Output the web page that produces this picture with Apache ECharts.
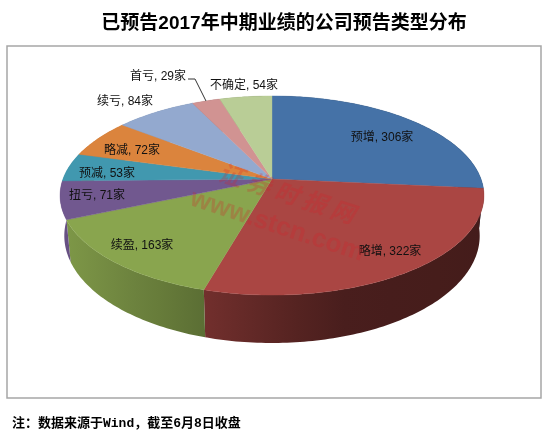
<!DOCTYPE html>
<html><head><meta charset="utf-8">
<style>html,body{margin:0;padding:0;background:#fff}#c{width:550px;height:431px}</style>
<script src="https://cdn.jsdelivr.net/npm/echarts@6/dist/echarts.min.js"></script>
</head><body><div id="c"></div>
<script>
var categories = ['预增','略增','续盈','扭亏','预减','略减','续亏','首亏','不确定'];
var counts = [306,322,163,71,53,72,84,29,54];
var colors = ['#4572A7','#AA4643','#89A54E','#71588F','#4198AF','#DB843D','#93A9CF','#D19392','#B9CD96'];
var titleText = '已预告2017年中期业绩的公司预告类型分布';
var noteText = '注：数据来源于Wind，截至6月8日收盘';

// layout (pixels): frame, apex of pie, label centres
var FRAME = {l:7,t:46,r:541,b:398};
var APEX = {x:272,y:179};
var PIE = {a:209,b:96.8,k:0.166,sx:0.98,sy:1.077,drop:39};
var LABEL_AT = [[382,137.5],[390,251.5],[142,245.5],[97,195.5],[107,173.5],[132,150.5],[125,101.5],[158,76.5],[244,85.5]];

var total = counts.reduce(function(s,v){return s+v;},0);
var starts = [];
counts.reduce(function(s,v,i){starts[i]=s;return s+v;},0);

function proj(deg, lower){
  var r = deg*Math.PI/180, u = Math.sin(r), v = Math.cos(r), w = 1+PIE.k*v;
  var X = PIE.a*u/w, Y = -PIE.b*v/w;
  if(lower){ return [X*PIE.sx, -(Y*PIE.sy+PIE.drop)]; }
  return [X, -Y];
}
function shadeAt(t){ // t in -1..1 : lighting of the wall, left to right
  var p=[[-1,.92],[-.3,.66],[.3,.43],[1,.40]];
  for(var i=0;i<3;i++){ if(t<=p[i+1][0]){ var f=(t-p[i][0])/(p[i+1][0]-p[i][0]); return p[i][1]+f*(p[i+1][1]-p[i][1]); } }
  return .40;
}
function mul(hex,f){
  var n=parseInt(hex.slice(1),16);
  return 'rgb('+[(n>>16)&255,(n>>8)&255,n&255].map(function(c){return Math.round(c*f);}).join(',')+')';
}
function renderSlice(params, api){
  var i = api.value(0), val = api.value(1);
  var a0 = starts[i]/total*360, a1 = a0+val/total*360;
  var top=[], wall=[], low=[], d;
  for(d=a0;;d+=1){ var dd=Math.min(d,a1); var t=proj(dd,false); top.push(api.coord(t)); wall.push(api.coord(t)); low.unshift(api.coord(proj(dd,true))); if(dd>=a1)break; }
  var apex = api.coord([0,0]);
  var topPts=[apex].concat(top), wallPts=wall.concat(low);
  var xs=wallPts.map(function(p){return p[0];});
  var minX=Math.min.apply(null,xs), maxX=Math.max.apply(null,xs), stops=[];
  for(var s=0;s<=6;s++){
    var px=minX+(maxX-minX)*s/6;
    stops.push({offset:s/6,color:mul(colors[i],shadeAt((px-APEX.x)/PIE.a))});
  }
  var fill=new echarts.graphic.LinearGradient(minX,0,maxX,0,stops,true);
  var lab=LABEL_AT[i];
  return {type:'group',children:[
    {type:'polygon',z2:1,shape:{points:wallPts},style:{fill:fill,stroke:null}},
    {type:'polygon',z2:2,shape:{points:topPts},style:{fill:colors[i],stroke:colors[i],lineWidth:.4}},
    {type:'text',z2:10,x:lab[0],y:lab[1],style:{
      text:categories[i]+', '+val+'家',fill:'#111',align:'center',verticalAlign:'middle',
      font:'12px "Liberation Sans","Noto Sans CJK SC",sans-serif'}}
  ]};
}
var chart = echarts.init(document.getElementById('c'),null,{renderer:'canvas'});
chart.setOption({
  animation:false,
  backgroundColor:'#fff',
  title:[
    {text:titleText,left:279,top:9,textAlign:'center',textStyle:{fontFamily:'"Liberation Sans","Noto Sans CJK SC",sans-serif',fontSize:19,fontWeight:'bold',color:'#000'}},
    {text:noteText,left:7,top:412,textStyle:{fontFamily:'"Liberation Mono","Noto Sans CJK SC",monospace',fontSize:13,fontWeight:'bold',color:'#000'}}
  ],
  grid:{left:FRAME.l,top:FRAME.t,width:FRAME.r-FRAME.l,height:FRAME.b-FRAME.t,show:true,borderColor:'#a6a6a6',borderWidth:1.5,backgroundColor:'#fff'},
  xAxis:{type:'value',min:FRAME.l-APEX.x,max:FRAME.r-APEX.x,show:false},
  yAxis:{type:'value',min:APEX.y-FRAME.b,max:APEX.y-FRAME.t,show:false},
  series:[
    {type:'custom',coordinateSystem:'cartesian2d',clip:false,renderItem:renderSlice,
     encode:{x:0,y:1},silent:true,
     data:counts.map(function(v,i){return [i,v];})}
  ],
  graphic:[
    {type:'polyline',z:50,shape:{points:[[188,79],[195,79],[206,101]]},style:{stroke:'#333',lineWidth:1,fill:null}},
    {type:'text',z:60,x:287,y:193,rotation:-18*Math.PI/180,style:{text:'证 券 时 报 网',align:'center',verticalAlign:'middle',font:'italic bold 24px "Noto Sans CJK SC",sans-serif',fill:'rgba(214,30,40,0.25)'}},
    {type:'text',z:60,x:277,y:226,rotation:-18*Math.PI/180,style:{text:'www.stcn.com',align:'center',verticalAlign:'middle',font:'bold 26px "Liberation Sans",sans-serif',fill:'rgba(214,30,40,0.25)'}}
  ]
});
</script></body></html>
